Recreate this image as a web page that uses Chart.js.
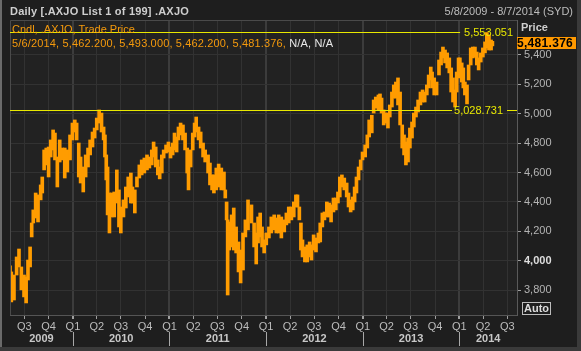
<!DOCTYPE html>
<html>
<head>
<meta charset="utf-8">
<script src="https://cdn.jsdelivr.net/npm/chart.js@4.4.1/dist/chart.umd.min.js"></script>
<style>
html, body { margin: 0; padding: 0; background: #1e1e1e; }
#wrap { position: relative; width: 581px; height: 351px; overflow: hidden;
  font-family: "Liberation Sans", Arial, sans-serif; font-size: 11px; }
#chart { position: absolute; left: 0; top: 0; }
.txt { position: absolute; white-space: nowrap; line-height: 13px; }
</style>
</head>
<body>
<div id="wrap">
<canvas id="chart" width="581" height="351"></canvas>
<div class="txt" style="left:10px; top:5px; font-weight:bold; color:#cfcfcf; letter-spacing:0.2px;">Daily [.AXJO List 1 of 199] .AXJO</div>
<div class="txt" style="right:8px; top:5px; color:#bdbdbd;">5/8/2009 - 8/7/2014 (SYD)</div>
<div class="txt" style="left:12px; top:23px; color:#f59a0c;">Cndl, .AXJO, Trade Price</div>
<div class="txt" style="left:12px; top:37px; color:#f59a0c; letter-spacing:0.15px;">5/6/2014, 5,462.200, 5,493.000, 5,462.200, 5,481.376, <span style="color:#e8e8e8;">N/A, N/A</span></div>
<div class="txt" style="left:521px; top:21px; font-weight:bold; color:#cfcfcf;">Price</div>
<div class="txt" style="left:517px; top:37px; width:59px; height:12px; line-height:12px; background:#ff9900; color:#000; font-weight:bold; font-size:12px; letter-spacing:0.3px;">5,481.376</div>
<div class="txt" style="left:522px; top:302px; height:11px; line-height:11px; padding:0 1px; border:1px solid #bdbdbd; color:#dcdcdc; font-weight:bold;">Auto</div>
</div>
<script>
// daily candles thinned to roughly one bar per week
var dates = [
  '2009-05-08','2009-05-13','2009-05-23','2009-06-02','2009-06-11','2009-06-20','2009-06-30','2009-07-08',
  '2009-07-15','2009-07-23','2009-07-29','2009-08-04','2009-08-13','2009-08-22','2009-09-01','2009-09-07',
  '2009-09-14','2009-09-22','2009-10-01','2009-10-09','2009-10-18','2009-10-25','2009-11-03','2009-11-12',
  '2009-11-22','2009-12-01','2009-12-11','2009-12-21','2009-12-30',
  '2010-01-08','2010-01-15','2010-01-23','2010-01-30','2010-02-09','2010-02-18','2010-02-27','2010-03-07',
  '2010-03-16','2010-03-24','2010-04-01','2010-04-10','2010-04-19','2010-04-27','2010-05-02','2010-05-07',
  '2010-05-12','2010-05-19','2010-05-27','2010-06-06','2010-06-16','2010-06-24','2010-07-01','2010-07-11',
  '2010-07-20','2010-07-29','2010-08-08','2010-08-14','2010-08-23','2010-08-31','2010-09-09','2010-09-18',
  '2010-09-28','2010-10-08','2010-10-17','2010-10-26','2010-11-02','2010-11-10','2010-11-18','2010-11-25',
  '2010-12-03','2010-12-10','2010-12-19','2010-12-28',
  '2011-01-05','2011-01-13','2011-01-20','2011-01-28','2011-02-04','2011-02-12','2011-02-21','2011-03-01',
  '2011-03-09','2011-03-14','2011-03-22','2011-03-30','2011-04-06','2011-04-12','2011-04-21','2011-04-29',
  '2011-05-08','2011-05-16','2011-05-27','2011-06-03','2011-06-11','2011-06-18','2011-06-27','2011-07-06',
  '2011-07-16','2011-07-26','2011-07-31','2011-08-05','2011-08-09','2011-08-15','2011-08-24','2011-09-01',
  '2011-09-10','2011-09-19','2011-09-27','2011-10-06','2011-10-15','2011-10-25','2011-11-07','2011-11-17',
  '2011-11-25','2011-12-02','2011-12-10','2011-12-17','2011-12-25',
  '2012-01-02','2012-01-12','2012-01-21','2012-02-01','2012-02-09','2012-02-18','2012-02-28','2012-03-10',
  '2012-03-18','2012-03-27','2012-04-06','2012-04-15','2012-04-23','2012-04-29','2012-05-06','2012-05-12',
  '2012-05-18','2012-05-27','2012-06-05','2012-06-14','2012-06-21','2012-06-29','2012-07-08','2012-07-17',
  '2012-07-24','2012-08-01','2012-08-09','2012-08-18','2012-08-27','2012-09-03','2012-09-12','2012-09-21',
  '2012-09-29','2012-10-06','2012-10-14','2012-10-23','2012-11-01','2012-11-08','2012-11-16','2012-11-24',
  '2012-12-01','2012-12-08','2012-12-16','2012-12-24','2012-12-31',
  '2013-01-10','2013-01-18','2013-01-25','2013-02-04','2013-02-11','2013-02-19','2013-03-01','2013-03-07',
  '2013-03-13','2013-03-21','2013-03-28','2013-04-06','2013-04-13','2013-04-21','2013-04-28','2013-05-06',
  '2013-05-14','2013-05-22','2013-05-30','2013-06-06','2013-06-13','2013-06-21','2013-06-28','2013-07-06',
  '2013-07-13','2013-07-21','2013-07-29','2013-08-07','2013-08-15','2013-08-23','2013-08-31','2013-09-07',
  '2013-09-15','2013-09-20','2013-09-28','2013-10-07','2013-10-16','2013-10-24','2013-10-31','2013-11-08',
  '2013-11-16','2013-11-24','2013-12-01','2013-12-08','2013-12-16','2013-12-22','2013-12-29',
  '2014-01-03','2014-01-10','2014-01-16','2014-01-22','2014-01-30','2014-02-05','2014-02-13','2014-02-21',
  '2014-03-01','2014-03-08','2014-03-15','2014-03-23','2014-03-31','2014-04-08','2014-04-15','2014-04-23',
  '2014-05-01','2014-05-06'
];
var highs = [
  3965,3924,3903,4026,4080,3958,3903,3890, 4005,4094,4257,4346,4461,4448,4516,4570,
  4754,4767,4774,4822,4890,4869,4706,4822, 4767,4767,4754,4856,4937,
  4958,4937,4801,4706,4638,4720,4767,4822, 4876,4903,4971,5026,5005,4910,4856,4720,
  4638,4461,4461,4468,4618,4482,4366,4414, 4502,4570,4597,4502,4482,4570,4652,4686,
  4699,4720,4706,4754,4808,4774,4686,4638, 4720,4754,4788,4808,
  4774,4801,4869,4842,4910,4937,4924,4869, 4767,4686,4754,4869,4937,4978,4910,4876,
  4801,4754,4720,4665,4584,4584,4631,4658, 4631,4604,4482,4400,4278,4264,4312,4359,
  4230,4128,4073,4189,4278,4414,4380,4257, 4189,4298,4325,4230,4142,
  4189,4230,4298,4312,4291,4312,4298,4278, 4325,4366,4366,4400,4448,4448,4366,4257,
  4142,4094,4108,4128,4108,4176,4155,4189, 4257,4325,4332,4400,4393,4380,4427,4427,
  4468,4570,4584,4563,4529,4461,4414,4434, 4502,4570,4638,4686,4740,
  4788,4856,4958,4990,5094,5114,5128,5135, 5107,5026,5005,5005,5060,5148,5196,5216,
  5244,5148,4924,4856,4808,4835,4903,4944, 5005,5046,5094,5148,5162,5148,5196,5264,
  5318,5284,5244,5216,5366,5420,5454,5434, 5414,5380,5312,5244,5162,5284,5380,
  5380,5346,5312,5216,5196,5332,5448,5454, 5454,5420,5380,5414,5448,5489,5553,5536,
  5502,5493
];
var lows = [
  3849,3720,3733,3903,3958,3802,3754,3713, 3869,3958,4162,4257,4291,4264,4414,4461,
  4618,4652,4570,4706,4754,4686,4502,4672, 4686,4563,4604,4686,4822,
  4876,4822,4570,4529,4468,4570,4638,4720, 4774,4835,4890,4937,4876,4822,4706,4550,
  4312,4189,4298,4298,4393,4230,4189,4298, 4359,4434,4393,4393,4325,4502,4563,4584,
  4597,4618,4631,4652,4706,4638,4584,4557, 4597,4699,4733,4740,
  4699,4720,4754,4740,4822,4856,4822,4754, 4597,4482,4638,4754,4842,4876,4822,4767,
  4706,4672,4597,4516,4482,4461,4482,4502, 4482,4482,4427,4278,3767,4073,4094,4073,
  4053,3924,3849,3937,4162,4210,4257,4094, 3978,4121,4162,4094,4053,
  4108,4155,4189,4210,4189,4189,4155,4196, 4244,4257,4278,4298,4366,4366,4278,4073,
  4026,3992,3992,4026,4005,4073,4060,4121, 4128,4230,4278,4298,4298,4264,4332,4346,
  4393,4434,4502,4482,4434,4366,4332,4346, 4400,4461,4550,4618,4686,
  4706,4767,4842,4870,5005,5039,5026,5060, 5005,4924,4937,4903,4978,5046,5107,5107,
  5060,4924,4767,4720,4652,4672,4767,4835, 4910,4978,5012,5060,5080,5080,5128,5176,
  5230,5176,5128,5128,5264,5332,5380,5346, 5312,5278,5148,5080,5046,5148,5244,
  5284,5216,5176,5128,5067,5230,5332,5380, 5386,5332,5298,5352,5386,5414,5448,5434,
  5434,5462
];

var quarterTicks = [
  '2009-07-01','2009-10-01','2010-01-01','2010-04-01','2010-07-01','2010-10-01',
  '2011-01-01','2011-04-01','2011-07-01','2011-10-01','2012-01-01','2012-04-01',
  '2012-07-01','2012-10-01','2013-01-01','2013-04-01','2013-07-01','2013-10-01',
  '2014-01-01','2014-04-01','2014-07-01'
];
var yearLabels = ['2009', '2010', '2011', '2012', '2013', '2014'];
var priceTicks = [3800, 4000, 4200, 4400, 4600, 4800, 5000, 5200, 5400];
var highLine = 5553.051;
var lowLine = 5028.731;

var xStart = Date.parse('2009-05-08');
var xEnd = Date.parse('2014-08-07');
var yMin = 3631;
var yMax = 5638;

var FONT = '"Liberation Sans", Arial, sans-serif';
Chart.defaults.font.family = FONT;
Chart.defaults.font.size = 11;

var bars = dates.map(function (d, i) {
  return { x: Date.parse(d), y: [lows[i], highs[i]] };
});

function fmt(v) {
  return v.toLocaleString('en-US', { minimumFractionDigits: 3, maximumFractionDigits: 3 });
}

var framePlugin = {
  id: 'frame',
  beforeDraw: function (chart) {
    var c = chart.ctx, a = chart.chartArea;
    c.save();
    c.fillStyle = '#1e1e1e';
    c.fillRect(0, 0, chart.width, chart.height);
    c.fillStyle = '#6a6a6a';
    c.fillRect(0, 0, 2, chart.height);
    c.fillStyle = '#3a3a3a';
    c.fillRect(577, 0, 4, chart.height);
    c.fillRect(0, 347, chart.width, 4);
    c.fillStyle = '#222222';
    c.fillRect(a.left, a.top, a.right - a.left, a.bottom - a.top);
    c.restore();
  },
  afterDatasetsDraw: function (chart) {
    var c = chart.ctx, a = chart.chartArea;
    var xs = chart.scales.x, ys = chart.scales.y;
    c.save();
    // frame top / left
    c.strokeStyle = '#4a4a4a';
    c.lineWidth = 1;
    c.beginPath();
    c.moveTo(a.left + 0.5, a.bottom);
    c.lineTo(a.left + 0.5, a.top + 0.5);
    c.lineTo(a.right, a.top + 0.5);
    c.stroke();

    // high / low lines
    c.font = '11px ' + FONT;
    c.textBaseline = 'middle';
    c.strokeStyle = '#e8e800';
    c.fillStyle = '#e8e800';
    var yh = Math.round(ys.getPixelForValue(highLine)) + 0.5;
    var th = fmt(highLine), wh = c.measureText(th).width;
    var lx = a.right - 4 - wh;
    c.beginPath(); c.moveTo(a.left, yh); c.lineTo(lx - 4, yh); c.stroke();
    c.fillText(th, lx, yh);

    var yl = Math.round(ys.getPixelForValue(lowLine)) + 0.5;
    var tl = fmt(lowLine), wl = c.measureText(tl).width;
    var lx2 = a.right - 14 - wl;
    c.beginPath(); c.moveTo(a.left, yl); c.lineTo(lx2 - 2, yl); c.stroke();
    c.beginPath(); c.moveTo(lx2 + wl + 4, yl); c.lineTo(a.right, yl); c.stroke();
    c.fillText(tl, lx2, yl);

    // year row
    c.font = 'bold 11px ' + FONT;
    c.fillStyle = '#c8c8c8';
    c.textAlign = 'center';
    c.strokeStyle = '#a8a8a8';
    yearLabels.forEach(function (y, i) {
      var s = Date.parse(y + '-01-01');
      var e = Date.parse((+y + 1) + '-01-01');
      var p0 = xs.getPixelForValue(Math.max(s, xStart));
      var p1 = xs.getPixelForValue(Math.min(e, xEnd));
      c.fillText(y, (p0 + p1) / 2, 339);
      if (i > 0) {
        var px = Math.round(xs.getPixelForValue(s)) + 0.5;
        c.beginPath(); c.moveTo(px, 332); c.lineTo(px, 346); c.stroke();
      }
    });
    c.restore();
  }
};

var canvas = document.getElementById('chart');
var chart = new Chart(canvas, {
  type: 'bar',
  data: {
    datasets: [{
      data: bars,
      backgroundColor: '#ff9c00',
      borderWidth: 0,
      barThickness: 3
    }]
  },
  options: {
    responsive: false,
    animation: false,
    layout: { padding: { left: 10, top: 20, right: 0, bottom: 0 } },
    plugins: { legend: { display: false }, tooltip: { enabled: false } },
    scales: {
      x: {
        type: 'linear',
        min: xStart,
        max: xEnd,
        offset: false,
        afterBuildTicks: function (s) {
          s.ticks = quarterTicks.map(function (d) { return { value: Date.parse(d) }; });
        },
        afterFit: function (s) { s.height = 36; },
        ticks: {
          autoSkip: false,
          maxRotation: 0,
          padding: 1,
          color: '#bcbcbc',
          callback: function (v) {
            return 'Q' + (Math.floor(new Date(v).getUTCMonth() / 3) + 1);
          }
        },
        grid: {
          offset: false,
          color: function (ctx) {
            return ctx.tick && new Date(ctx.tick.value).getUTCMonth() === 0 ? '#3c3c3c' : '#323232';
          },
          lineWidth: function (ctx) {
            return ctx.tick && new Date(ctx.tick.value).getUTCMonth() === 0 ? 2 : 1;
          },
          tickColor: '#a0a0a0',
          tickLength: 4
        },
        border: { color: '#555555' }
      },
      y: {
        position: 'right',
        min: yMin,
        max: yMax,
        afterBuildTicks: function (s) {
          s.ticks = priceTicks.map(function (v) { return { value: v }; });
        },
        afterFit: function (s) { s.width = 64; },
        ticks: {
          padding: 3,
          color: function (ctx) { return ctx.tick && ctx.tick.value === 4000 ? '#dedede' : '#b4b4b4'; },
          font: function (ctx) {
            return { family: FONT, size: 11, weight: ctx.tick && ctx.tick.value === 4000 ? 'bold' : 'normal' };
          },
          callback: function (v) { return v.toLocaleString('en-US'); }
        },
        grid: { color: '#323232', tickColor: '#a0a0a0', tickLength: 4 },
        border: { color: '#5a5a5a' }
      }
    }
  },
  plugins: [framePlugin]
});
</script>
</body>
</html>
